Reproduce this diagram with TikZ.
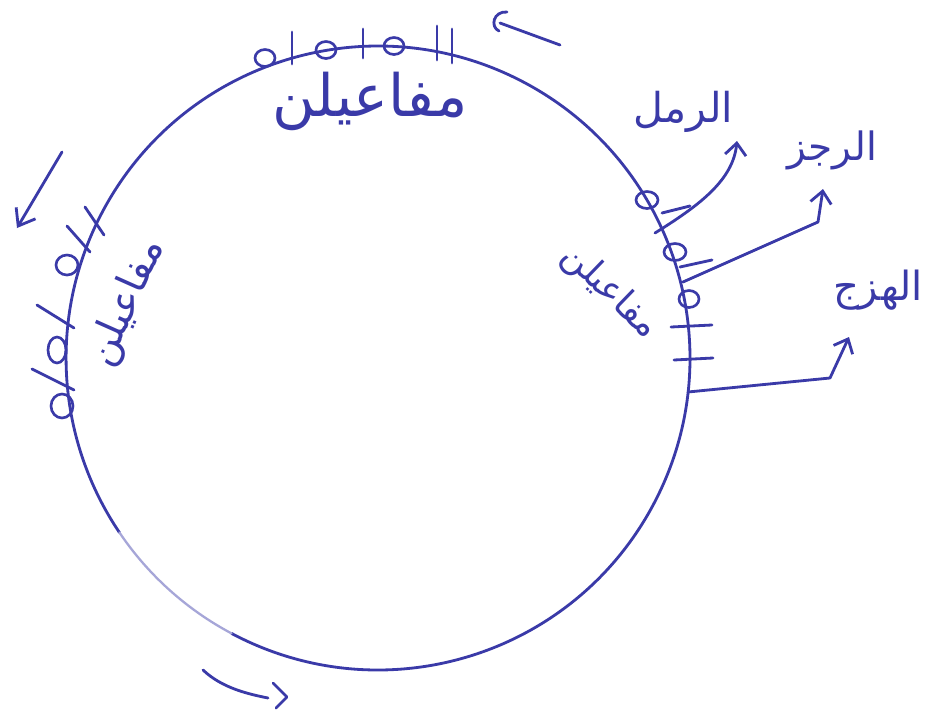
\documentclass[tikz,border=0pt]{standalone}
\usepackage{fontspec}
\usepackage{graphicx}
\usetikzlibrary{arrows.meta}
\newfontfamily\arabicfont[Script=Arabic]{DejaVu Sans}
\TeXXeTstate=1
\definecolor{ink}{RGB}{58,58,168}
\newcommand{\arw}[2]{\resizebox{#1}{!}{\arabicfont\beginR #2\endR}}
\begin{document}
\begin{tikzpicture}[x=0.02cm,y=-0.02cm,line cap=round,line join=round,
  pen/.style={draw=ink,line width=1.6pt},
  faint/.style={draw=ink!45,line width=1.3pt},
  zeromark/.style={draw=ink,line width=1.5pt},
  tickmark/.style={draw=ink,line width=1.6pt},
  arrowtip/.style={-{Straight Barb[length=0.24cm,width=0.42cm,line width=1.6pt]}},
  label/.style={text=ink,inner sep=0pt}]
\useasboundingbox[fill=white] (0,0) rectangle (934,724);
% circle
\draw[pen] (378,358) ++(242:6.24cm) arc[start angle=242,end angle=574,radius=6.24cm];
\draw[faint] (378,358) ++(214:6.24cm) arc[start angle=214,end angle=242,radius=6.24cm];
% top markers  o|o|o||
\draw[zeromark] (265,58) ellipse[x radius=0.2cm,y radius=0.17cm];
\draw[tickmark] (292,32) -- (292,64);
\draw[zeromark] (326,50) ellipse[x radius=0.2cm,y radius=0.17cm];
\draw[tickmark] (363,29) -- (363,58);
\draw[zeromark] (394,46) ellipse[x radius=0.2cm,y radius=0.17cm];
\draw[tickmark] (437,26) -- (437,60);
\draw[tickmark] (452,29) -- (452,63);
\node[label] (ttop) at (370,101) {\arw{3.9cm}{مفاعيلن}};
% left markers
\draw[tickmark] (85,207) -- (104,235);
\draw[tickmark] (67,226) -- (90,252);
\draw[zeromark] (67,265) ellipse[x radius=0.22cm,y radius=0.2cm];
\draw[tickmark] (37,305) -- (74,328);
\draw[zeromark] (57,350) ellipse[x radius=0.18cm,y radius=0.26cm];
\draw[tickmark] (32,369) -- (74,390);
\draw[zeromark] (62,406) ellipse[x radius=0.22cm,y radius=0.24cm];
\node[label,rotate=66] (tleft) at (127,303) {\arw{2.7cm}{مفاعيلن}};
% right markers
\draw[zeromark] (647,200) ellipse[x radius=0.22cm,y radius=0.17cm];
\draw[tickmark] (662,213) -- (690,206);
\draw[zeromark] (675,252) ellipse[x radius=0.22cm,y radius=0.17cm];
\draw[tickmark] (680,267) -- (712,260);
\draw[zeromark] (689,299) ellipse[x radius=0.2cm,y radius=0.17cm];
\draw[tickmark] (671,327) -- (712,325);
\draw[tickmark] (674,360) -- (713,358);
\node[label,rotate=-44] (tright) at (610,292) {\arw{2.4cm}{مفاعيلن}};
% labels
\node[label] (ramal) at (683,112) {\arw{2.0cm}{الرمل}};
\node[label] (rajaz) at (832,150) {\arw{1.8cm}{الرجز}};
\node[label] (hazaj) at (878,290) {\arw{1.8cm}{الهزج}};
% connectors
\coordinate (ra) at (655,233);
\coordinate (rj) at (683,282);
\coordinate (hz) at (688,392);
\coordinate (ta) at (737,141);
\coordinate (bj) at (818,222);
\coordinate (tj) at (823,189);
\coordinate (bh) at (830,378);
\coordinate (th) at (849,337);
\draw[pen,arrowtip] (ra) .. controls (700,205) and (733,180) .. (ta);
\draw[pen,arrowtip] (rj) -- (bj) -- (tj);
\draw[pen,arrowtip] (hz) -- (bh) -- (th);
% direction arrows
\coordinate (a1s) at (560,45);
\coordinate (a1e) at (500,23);
\draw[pen] (a1s) -- (a1e);
\draw[pen] (507,12) .. controls (493,11) and (490,27) .. (499,31);
\coordinate (a2s) at (62,152);
\coordinate (a2e) at (17,228);
\draw[pen,-{Straight Barb[length=0.3cm,width=0.45cm,line width=1.6pt]}] (a2s) -- (a2e);
\coordinate (a3s) at (203,670);
\coordinate (a3e) at (287,697);
\draw[pen] (a3s) .. controls (222,688) and (248,694) .. (268,698);
\draw[pen] (273,683) -- (a3e) -- (276,708);
\end{tikzpicture}
\end{document}
